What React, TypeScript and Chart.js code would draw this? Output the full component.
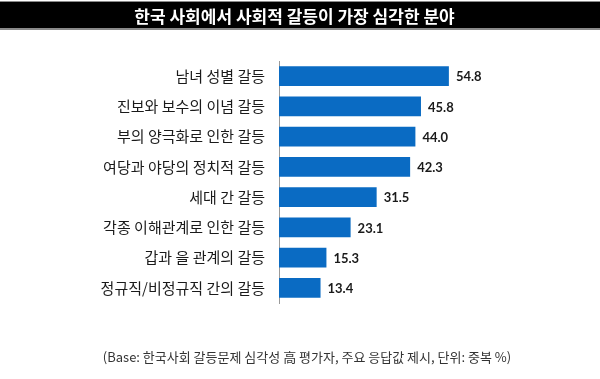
import React, { useEffect, useRef } from "react";
import { Chart, registerables } from "chart.js";

Chart.register(...registerables);

const titleText = "한국 사회에서 사회적 갈등이 가장 심각한 분야";
const footerText = "(Base: 한국사회 갈등문제 심각성 高 평가자, 주요 응답값 제시, 단위: 중복 %)";
const categories = [
  "남녀 성별 갈등",
  "진보와 보수의 이념 갈등",
  "부의 양극화로 인한 갈등",
  "여당과 야당의 정치적 갈등",
  "세대 간 갈등",
  "각종 이해관계로 인한 갈등",
  "갑과 을 관계의 갈등",
  "정규직/비정규직 간의 갈등",
];
const values = [54.8, 45.8, 44.0, 42.3, 31.5, 23.1, 15.3, 13.4];

const KFONT = "'Noto Sans CJK KR', 'Noto Sans', sans-serif";

const titleBarPlugin = {
  id: "titleBar",
  beforeDraw(chart: any) {
    const { ctx, width } = chart;
    ctx.save();
    ctx.fillStyle = "#ffffff";
    ctx.fillRect(0, 0, width, chart.height);
    ctx.fillStyle = "#000000";
    ctx.fillRect(0, 1, width, 29);
    ctx.fillStyle = "#8a8a8a";
    ctx.fillRect(0, 1, width, 1);
    ctx.fillRect(0, 28, width, 2);
    ctx.restore();
  },
};

const footerPlugin = {
  id: "footerNote",
  afterDraw(chart: any) {
    const { ctx } = chart;
    ctx.save();
    ctx.font = `13px ${KFONT}`;
    ctx.fillStyle = "#333333";
    ctx.textAlign = "center";
    ctx.textBaseline = "middle";
    ctx.fillText(footerText, 307, 357);
    ctx.restore();
  },
};

const valueLabelPlugin = {
  id: "valueLabels",
  afterDatasetsDraw(chart: any) {
    const { ctx } = chart;
    const meta = chart.getDatasetMeta(0);
    ctx.save();
    ctx.font = "bold 13px Lato, 'DejaVu Sans', sans-serif";
    ctx.fillStyle = "#1a1a1a";
    ctx.textAlign = "left";
    ctx.textBaseline = "middle";
    meta.data.forEach((bar: any, i: number) => {
      ctx.fillText(values[i].toFixed(1), bar.x + 7, bar.y + 1);
    });
    ctx.restore();
  },
};

export default function App() {
  const canvasRef = useRef<HTMLCanvasElement>(null);

  useEffect(() => {
    const chart = new Chart(canvasRef.current!, {
      type: "bar",
      data: {
        labels: categories,
        datasets: [
          {
            data: values,
            backgroundColor: "#0a6bc3",
            borderWidth: 0,
            categoryPercentage: 1,
            barPercentage: 0.66,
          },
        ],
      },
      options: {
        indexAxis: "y",
        animation: false,
        responsive: false,
        devicePixelRatio: 1,
        layout: { padding: { left: 0, right: 11, top: 0, bottom: 76 } },
        plugins: {
          legend: { display: false },
          tooltip: { enabled: false },
          title: {
            display: true,
            text: titleText,
            color: "#ffffff",
            font: { family: KFONT, size: 17, weight: "bold" },
            padding: { top: 6, bottom: 34.6 },
          },
        },
        scales: {
          x: {
            display: false,
            min: 0,
            max: 100,
          },
          y: {
            afterFit: (s: any) => {
              s.width = 279;
            },
            grid: { display: false, drawTicks: false },
            border: { display: true, color: "#9a9a9a", width: 1 },
            ticks: {
              color: "#1a1a1a",
              padding: 14,
              font: { family: KFONT, size: 15 },
            },
          },
        },
      },
      plugins: [titleBarPlugin, valueLabelPlugin, footerPlugin],
    });
    return () => chart.destroy();
  }, []);

  return (
    <div style={{ position: "fixed", left: 0, top: 0, width: 600, height: 379, background: "#fff" }}>
      <canvas ref={canvasRef} width={600} height={379} style={{ display: "block", width: 600, height: 379 }} />
    </div>
  );
}
